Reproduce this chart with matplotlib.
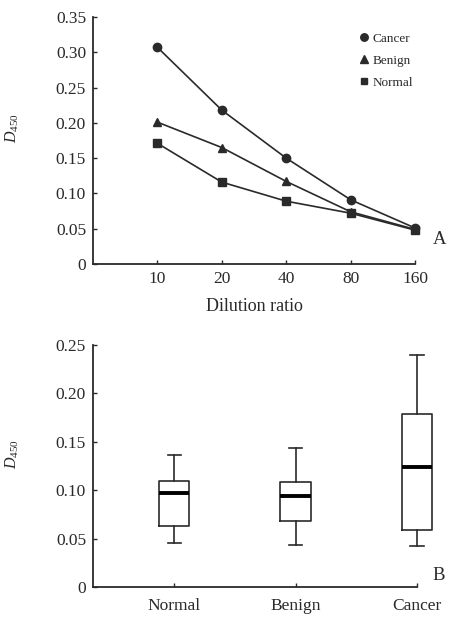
import matplotlib
matplotlib.use("Agg")
import matplotlib.pyplot as plt

plt.rcParams['font.family'] = ['Liberation Serif', 'DejaVu Serif']
plt.rcParams['mathtext.fontset'] = 'custom'
plt.rcParams['mathtext.it'] = 'Liberation Serif:italic'
plt.rcParams['mathtext.rm'] = 'Liberation Serif'

# Panel A data
dilutions = ["10", "20", "40", "80", "160"]
cancer = [0.307, 0.218, 0.150, 0.091, 0.051]
benign = [0.201, 0.165, 0.117, 0.074, 0.049]
normal = [0.171, 0.116, 0.089, 0.072, 0.048]
yticks_a = [0, 0.05, 0.10, 0.15, 0.20, 0.25, 0.30, 0.35]
yticklabels_a = ["0", "0.05", "0.10", "0.15", "0.20", "0.25", "0.30", "0.35"]

# Panel B data (box stats)
groups = ["Normal", "Benign", "Cancer"]
whislo = [0.045, 0.043, 0.042]
q1 = [0.063, 0.068, 0.059]
med = [0.0975, 0.094, 0.124]
q3 = [0.110, 0.108, 0.179]
whishi = [0.136, 0.144, 0.240]
yticks_b = [0, 0.05, 0.10, 0.15, 0.20, 0.25]
yticklabels_b = ["0", "0.05", "0.10", "0.15", "0.20", "0.25"]

col = "#2a2a2a"
fs = 12.5

fig = plt.figure(figsize=(4.5, 6.32), dpi=100)

# ---- Panel A
axA = fig.add_axes([0.2067, 0.5823, 0.7156, 0.3908])
x = list(range(len(dilutions)))
axA.plot(x, cancer, color=col, lw=1.2, marker='o', ms=6, label="Cancer", clip_on=False)
axA.plot(x, benign, color=col, lw=1.2, marker='^', ms=6, label="Benign", clip_on=False)
axA.plot(x, normal, color=col, lw=1.2, marker='s', ms=5.5, label="Normal", clip_on=False)
axA.set_xlim(-1, 4)
axA.set_ylim(0, 0.35)
axA.set_xticks(x)
axA.set_xticklabels(dilutions, fontsize=fs, color=col)
axA.set_yticks(yticks_a)
axA.set_yticklabels(yticklabels_a, fontsize=fs, color=col)
axA.set_xlabel("Dilution ratio", fontsize=fs + 0.5, color=col, labelpad=8)
axA.set_ylabel(r"$D_{450}$", fontsize=fs - 1, color=col)
axA.yaxis.set_label_coords(-0.223, 0.55)
for s in ["top", "right"]:
    axA.spines[s].set_visible(False)
for s in ["left", "bottom"]:
    axA.spines[s].set_linewidth(1.3)
    axA.spines[s].set_color(col)
axA.tick_params(direction='in', length=3, width=1, colors=col, pad=5)
leg = axA.legend(loc='upper right', bbox_to_anchor=(1.03, 0.985), frameon=False,
                 fontsize=9.5, handlelength=0.6, handletextpad=0.35, labelspacing=0.75,
                 markerscale=0.9)
for h in leg.legend_handles:
    h.set_linestyle('none')
for t in leg.get_texts():
    t.set_color(col)
fig.text(440 / 450, 1 - 240 / 632, "A", fontsize=fs + 1, color=col, ha='center', va='center')

# ---- Panel B
axB = fig.add_axes([0.2067, 0.0712, 0.72, 0.3829])
stats = []
for i, g in enumerate(groups):
    stats.append(dict(label=g, whislo=whislo[i], q1=q1[i], med=med[i], q3=q3[i],
                      whishi=whishi[i], fliers=[]))
bp = axB.bxp(stats, positions=list(range(len(groups))), widths=0.25, showfliers=False,
             patch_artist=False,
             boxprops=dict(color=col, lw=1.2),
             whiskerprops=dict(color=col, lw=1.2),
             capprops=dict(color=col, lw=1.2),
             medianprops=dict(color='black', lw=2.8))
for k in bp:
    for a in bp[k]:
        a.set_clip_on(False)
for c in bp['caps']:
    xd = c.get_xdata()
    m = (xd[0] + xd[1]) / 2
    c.set_xdata([m - 0.055, m + 0.055])
axB.set_xlim(-0.67, 2.0)
axB.set_ylim(0, 0.25)
axB.set_xticks(range(len(groups)))
axB.set_xticklabels(groups, fontsize=fs, color=col)
axB.set_yticks(yticks_b)
axB.set_yticklabels(yticklabels_b, fontsize=fs, color=col)
axB.set_ylabel(r"$D_{450}$", fontsize=fs - 1, color=col)
axB.yaxis.set_label_coords(-0.222, 0.55)
for s in ["top", "right"]:
    axB.spines[s].set_visible(False)
for s in ["left", "bottom"]:
    axB.spines[s].set_linewidth(1.3)
    axB.spines[s].set_color(col)
axB.tick_params(direction='in', length=3, width=1, colors=col, pad=5)
axB.tick_params(axis='x', pad=8)
fig.text(439 / 450, 1 - 575 / 632, "B", fontsize=fs + 1, color=col, ha='center', va='center')

fig.savefig("out.png", dpi=100, facecolor='white')
